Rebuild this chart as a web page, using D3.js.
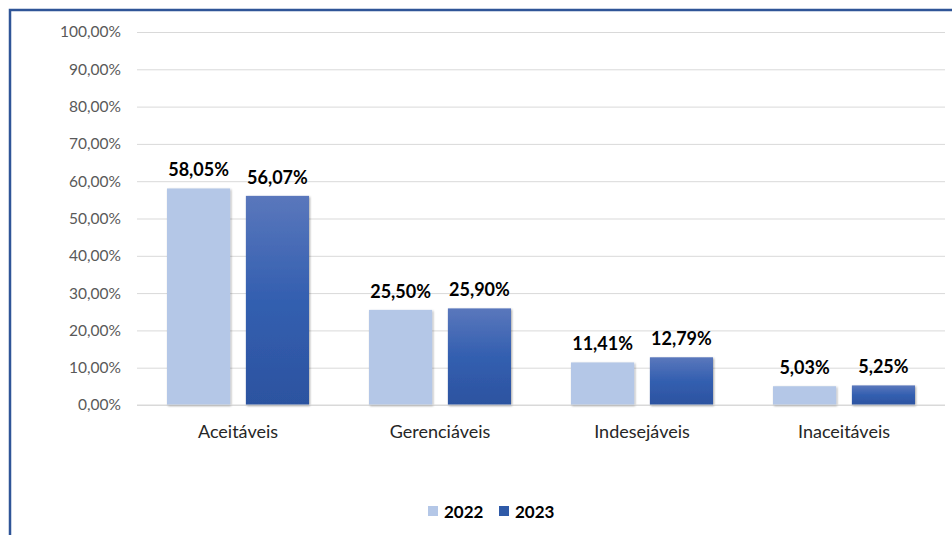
<!DOCTYPE html>
<html><head><meta charset="utf-8">
<script src="https://cdn.jsdelivr.net/npm/d3@7"></script>
<style>body{margin:0;background:#fff}svg{display:block}</style>
</head><body>
<svg id="c" width="952" height="535"></svg>
<script>
const categories = ["Aceitáveis","Gerenciáveis","Indesejáveis","Inaceitáveis"];
const seriesNames = ["2022","2023"];
const values2022 = [58.05, 25.50, 11.41, 5.03];
const values2023 = [56.07, 25.90, 12.79, 5.25];
const yTicks = [0,10,20,30,40,50,60,70,80,90,100];

const svg = d3.select("#c");
const font = "Lato, 'Open Sans', sans-serif";
const defs = svg.append("defs");
const g = defs.append("linearGradient").attr("id","g23").attr("x1",0).attr("y1",0).attr("x2",0).attr("y2",1);
g.append("stop").attr("offset","0%").attr("stop-color","#5A77BC");
g.append("stop").attr("offset","50%").attr("stop-color","#335FB0");
g.append("stop").attr("offset","100%").attr("stop-color","#2C53A0");
const f = defs.append("filter").attr("id","sh").attr("x","-10%").attr("y","-10%").attr("width","130%").attr("height","130%");
f.append("feDropShadow").attr("dx",1).attr("dy",1).attr("stdDeviation",1.2).attr("flood-color","#000").attr("flood-opacity",0.35);

// border
svg.append("path").attr("d","M10,535 V10 H952").attr("fill","none").attr("stroke","#2F5597").attr("stroke-width",2.5);

const x0 = d3.scaleBand().domain(categories).range([137,945]).paddingInner(0).paddingOuter(0);
const x1 = d3.scaleBand().domain(seriesNames).range([30,172]).paddingInner(0.2).paddingOuter(0);
const y = d3.scaleLinear().domain([0,100]).range([405,32]);

const yAxis = svg.append("g").attr("transform","translate(137,0)")
  .call(d3.axisLeft(y).tickValues(yTicks).tickSize(-808).tickPadding(16)
    .tickFormat(d => d.toFixed(2).replace(".",",") + "%"));
yAxis.select(".domain").remove();
yAxis.selectAll("line").attr("stroke","#D9D9D9").attr("stroke-width",1);
yAxis.selectAll("text").attr("fill","#595959").style("font-family",font).style("font-size","15.5px");

const data = categories.map((c,i)=>({c, vals:[{s:"2022",v:values2022[i]},{s:"2023",v:values2023[i]}]}));
const grp = svg.append("g").selectAll("g").data(data).join("g")
  .attr("transform",d=>`translate(${x0(d.c)},0)`);
grp.selectAll("rect").data(d=>d.vals).join("rect")
  .attr("x",d=>x1(d.s)).attr("width",x1.bandwidth())
  .attr("y",d=>y(d.v)).attr("height",d=>y(0)-y(d.v))
  .attr("fill",d=>d.s==="2022"?"#B4C7E7":"url(#g23)")
  .attr("filter","url(#sh)");
grp.selectAll("text").data(d=>d.vals).join("text")
  .attr("x",d=>x1(d.s)+x1.bandwidth()/2).attr("y",d=>y(d.v)-12)
  .attr("text-anchor","middle").attr("fill","#000")
  .style("font-family",font).style("font-size","18px").style("font-weight","bold")
  .text(d=>d.v.toFixed(2).replace(".",",")+"%");

// baseline
svg.append("line").attr("x1",137).attr("x2",945).attr("y1",y(0)).attr("y2",y(0)).attr("stroke","#D9D9D9");

const xAxis = svg.append("g").attr("transform",`translate(0,${y(0)})`)
  .call(d3.axisBottom(x0).tickSize(0).tickPadding(20));
xAxis.select(".domain").remove();
xAxis.selectAll("text").attr("fill","#262626").style("font-family",font).style("font-size","18px");

// legend
const leg = svg.append("g");
const lx = [428,499];
seriesNames.forEach((s,i)=>{
  leg.append("rect").attr("x",lx[i]).attr("y",506).attr("width",10).attr("height",10)
    .attr("fill",i===0?"#B4C7E7":"#2F5AA8");
  leg.append("text").attr("x",lx[i]+16).attr("y",518).attr("fill","#000")
    .style("font-family",font).style("font-size","17px").style("font-weight","bold").text(s);
});
</script>
</body></html>
